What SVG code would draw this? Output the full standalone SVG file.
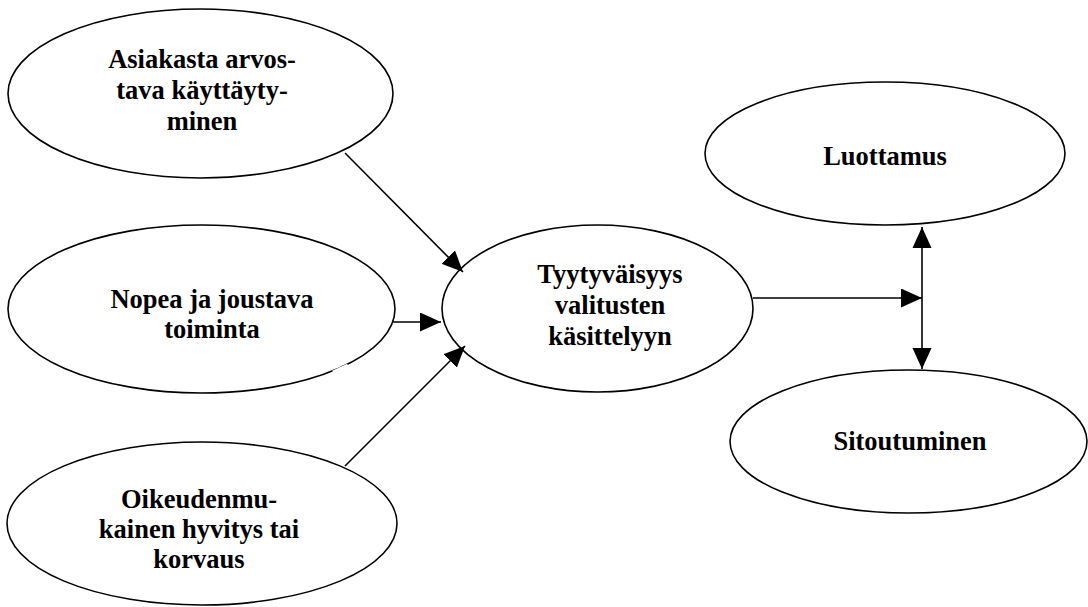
<svg xmlns="http://www.w3.org/2000/svg" width="1088" height="607" viewBox="0 0 1088 607">
<style>
.node ellipse{fill:#fff;stroke:#000;stroke-width:1.6}
.node text{font-family:"Liberation Serif","Times New Roman",serif;font-weight:bold;font-size:26.5px;fill:#000;text-anchor:middle}
.conn line{stroke:#000;stroke-width:1.6;fill:none}
</style>
<defs>
<marker id="ah" markerUnits="userSpaceOnUse" markerWidth="22" markerHeight="20" refX="21" refY="9.5" orient="auto">
<path d="M0,0 L21,9.5 L0,19 z" fill="#000"/>
</marker>
<marker id="ahs" markerUnits="userSpaceOnUse" markerWidth="22" markerHeight="20" refX="0" refY="9.5" orient="auto">
<path d="M21,0 L0,9.5 L21,19 z" fill="#000"/>
</marker>
</defs>
<rect width="1088" height="607" fill="#fff"/>
<g id="n1" class="node">
<ellipse cx="200.5" cy="93.5" rx="192.5" ry="84.5"/>
<text x="202" y="68">Asiakasta arvos-</text>
<text x="202" y="99">tava käyttäyty-</text>
<text x="202" y="130">minen</text>
</g>
<g id="n2" class="node">
<ellipse cx="201.5" cy="309" rx="193.5" ry="84"/>
<line x1="333" y1="372.5" x2="348" y2="365.5" stroke="#fff" stroke-width="4"/>
<text x="212" y="308">Nopea ja joustava</text>
<text x="212" y="338">toiminta</text>
</g>
<g id="n3" class="node">
<ellipse cx="202" cy="523.5" rx="195" ry="81.5"/>
<text x="199" y="508">Oikeudenmu-</text>
<text x="199" y="538">kainen hyvitys tai</text>
<text x="199" y="568">korvaus</text>
</g>
<g id="n4" class="node">
<ellipse cx="597.5" cy="308.5" rx="155.5" ry="83.5"/>
<text x="610" y="283">Tyytyväisyys</text>
<text x="610" y="314">valitusten</text>
<text x="610" y="345">käsittelyyn</text>
</g>
<g id="n5" class="node">
<ellipse cx="885" cy="153.5" rx="180" ry="71.5"/>
<text x="885" y="165">Luottamus</text>
</g>
<g id="n6" class="node">
<ellipse cx="908.5" cy="441.5" rx="178.5" ry="71.5"/>
<text x="910" y="450">Sitoutuminen</text>
</g>
<g id="connectors" class="conn">
<line x1="345" y1="153" x2="463" y2="272" marker-end="url(#ah)"/>
<line x1="393" y1="322" x2="441" y2="322" marker-end="url(#ah)"/>
<line x1="345" y1="466" x2="465" y2="346" marker-end="url(#ah)"/>
<line x1="753" y1="298" x2="922" y2="298" marker-end="url(#ah)"/>
<line x1="922" y1="227" x2="922" y2="369" marker-start="url(#ahs)" marker-end="url(#ah)"/>
</g>
</svg>
